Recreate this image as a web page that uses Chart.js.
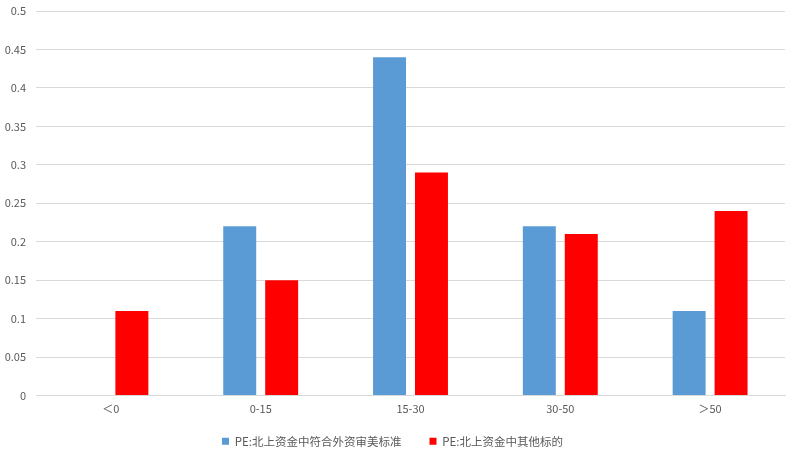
<!DOCTYPE html>
<html>
<head>
<meta charset="utf-8">
<script src="https://cdn.jsdelivr.net/npm/chart.js@4"></script>
<style>
  html, body { margin: 0; padding: 0; background: #fff; }
  #wrap { width: 797px; height: 458px; position: relative; }
</style>
</head>
<body>
<div id="wrap"><canvas id="peChart"></canvas></div>
<script>
var categories = ['＜0', '0-15', '15-30', '30-50', '＞50'];
var foreignStd = [0, 0.22, 0.44, 0.22, 0.11];
var otherTargets = [0.11, 0.15, 0.29, 0.21, 0.24];
var seriesNames = ['PE:北上资金中符合外资审美标准', 'PE:北上资金中其他标的'];
var yTicks = [0, 0.05, 0.1, 0.15, 0.2, 0.25, 0.3, 0.35, 0.4, 0.45, 0.5];

var fontFamily = '"Noto Sans CJK SC", "Open Sans", sans-serif';

new Chart(document.getElementById('peChart').getContext('2d'), {
    type: 'bar',
    data: {
        labels: categories,
        datasets: [{
            label: seriesNames[0],
            data: foreignStd,
            backgroundColor: '#5b9bd5',
            barPercentage: 0.786,
            categoryPercentage: 0.56
        }, {
            label: seriesNames[1],
            data: otherTargets,
            backgroundColor: '#ff0000',
            barPercentage: 0.786,
            categoryPercentage: 0.56
        }]
    },
    options: {
        responsive: true,
        maintainAspectRatio: false,
        animation: false,
        layout: { padding: { top: 0, right: 12, left: 0, bottom: 1 } },
        plugins: {
            tooltip: { enabled: false },
            legend: {
                position: 'bottom',
                labels: {
                    boxWidth: 7,
                    boxHeight: 7,
                    padding: 28,
                    color: '#595959',
                    font: { family: fontFamily, size: 11.5 }
                }
            }
        },
        scales: {
            x: {
                // keep the axis box short, let tick labels spill into the legend's top padding
                afterFit: function (axis) {
                    axis.height = 12;
                    axis._computeLabelArea = function () { return undefined; };
                },
                grid: { display: false, drawTicks: false },
                border: { color: '#d9d9d9' },
                ticks: { color: '#595959', padding: 7, font: { family: fontFamily, size: 11 } }
            },
            y: {
                min: 0,
                max: 0.5,
                afterBuildTicks: function (axis) {
                    axis.ticks = yTicks.map(function (v) { return { value: v }; });
                },
                afterFit: function (axis) {
                    axis.width = 36;
                    axis.paddingTop = 11;
                },
                grid: { color: '#d9d9d9', drawTicks: false },
                border: { display: false },
                ticks: {
                    color: '#595959',
                    padding: 10,
                    font: { family: fontFamily, size: 11 },
                    callback: function (v) { return String(Math.round(v * 100) / 100); }
                }
            }
        }
    }
});
</script>
</body>
</html>
